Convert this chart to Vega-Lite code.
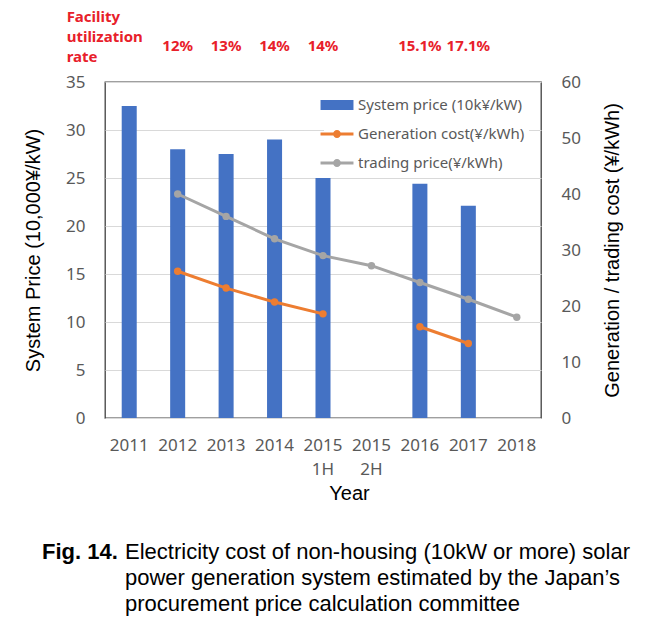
{
  "$schema": "https://vega.github.io/schema/vega-lite/v6.json",
  "width": 436,
  "height": 336,
  "autosize": {"type": "none"},
  "padding": {"left": 105, "top": 82, "right": 116, "bottom": 212},
  "background": "white",
  "config": {
    "font": "Noto Sans",
    "view": {"stroke": "#404040", "strokeWidth": 1.3}
  },
  "datasets": {
    "bars": [
      {"year": "2011", "series": "System price (10k¥/kW)", "price": 32.5},
      {"year": "2012", "series": "System price (10k¥/kW)", "price": 28.0},
      {"year": "2013", "series": "System price (10k¥/kW)", "price": 27.5},
      {"year": "2014", "series": "System price (10k¥/kW)", "price": 29.0},
      {"year": "2015 1H", "series": "System price (10k¥/kW)", "price": 25.0},
      {"year": "2016", "series": "System price (10k¥/kW)", "price": 24.4},
      {"year": "2017", "series": "System price (10k¥/kW)", "price": 22.1}
    ],
    "lines": [
      {"year": "2012", "series": "Generation cost(¥/kWh)", "seg": "g1", "cost": 26.2},
      {"year": "2013", "series": "Generation cost(¥/kWh)", "seg": "g1", "cost": 23.2},
      {"year": "2014", "series": "Generation cost(¥/kWh)", "seg": "g1", "cost": 20.7},
      {"year": "2015 1H", "series": "Generation cost(¥/kWh)", "seg": "g1", "cost": 18.6},
      {"year": "2016", "series": "Generation cost(¥/kWh)", "seg": "g2", "cost": 16.3},
      {"year": "2017", "series": "Generation cost(¥/kWh)", "seg": "g2", "cost": 13.3},
      {"year": "2012", "series": "trading price(¥/kWh)", "seg": "t", "cost": 40.0},
      {"year": "2013", "series": "trading price(¥/kWh)", "seg": "t", "cost": 36.0},
      {"year": "2014", "series": "trading price(¥/kWh)", "seg": "t", "cost": 32.0},
      {"year": "2015 1H", "series": "trading price(¥/kWh)", "seg": "t", "cost": 29.0},
      {"year": "2015 2H", "series": "trading price(¥/kWh)", "seg": "t", "cost": 27.2},
      {"year": "2016", "series": "trading price(¥/kWh)", "seg": "t", "cost": 24.2},
      {"year": "2017", "series": "trading price(¥/kWh)", "seg": "t", "cost": 21.2},
      {"year": "2018", "series": "trading price(¥/kWh)", "seg": "t", "cost": 18.0}
    ],
    "rates": [
      {"year": "2012", "rate": "12%"},
      {"year": "2013", "rate": "13%"},
      {"year": "2014", "rate": "14%"},
      {"year": "2015 1H", "rate": "14%"},
      {"year": "2016", "rate": "15.1%"},
      {"year": "2017", "rate": "17.1%"}
    ]
  },
  "layer": [
    {
      "layer": [
        {
          "data": {"name": "bars"},
          "mark": {"type": "bar"},
          "encoding": {
            "x": {
              "field": "year", "type": "nominal",
              "scale": {"domain": ["2011", "2012", "2013", "2014", "2015 1H", "2015 2H", "2016", "2017", "2018"], "paddingInner": 0.69, "paddingOuter": 0.345},
              "axis": {
                "title": "Year", "labelAngle": 0, "labelExpr": "split(datum.label, ' ')",
                "labelFontSize": 17, "labelColor": "#595959", "labelPadding": 19, "labelLineHeight": 24,
                "ticks": false, "domain": false,
                "titleFont": "Liberation Sans", "titleFontSize": 20, "titleColor": "#000000", "titleFontWeight": "normal",
                "titlePadding": 6, "titleX": 244
              }
            },
            "y": {
              "field": "price", "type": "quantitative",
              "scale": {"domain": [0, 35]},
              "axis": {
                "orient": "left", "title": "System Price (10,000¥/kW)",
                "values": [0, 5, 10, 15, 20, 25, 30, 35],
                "grid": true, "gridColor": "#D9D9D9", "gridWidth": 1,
                "ticks": false, "domain": false,
                "labelFontSize": 17, "labelColor": "#595959", "labelPadding": 20,
                "titleFont": "Liberation Sans", "titleFontSize": 20, "titleColor": "#000000", "titleFontWeight": "normal",
                "titlePadding": 22
              }
            },
            "color": {
              "field": "series", "type": "nominal",
              "scale": {"domain": ["System price (10k¥/kW)", "Generation cost(¥/kWh)", "trading price(¥/kWh)"], "range": ["#4472C4", "#ED7D31", "#A5A5A5"]},
              "legend": {
                "orient": "none", "legendX": 219, "legendY": 10, "title": null, "direction": "vertical",
                "fillColor": "white", "padding": 4,
                "labelFont": "Noto Sans", "labelFontSize": 15, "labelColor": "#595959", "labelOffset": 12, "labelLimit": 300,
                "rowPadding": 12, "symbolSize": 324, "symbolStrokeWidth": 0,
                "encode": {
                  "symbols": {
                    "update": {
                      "shape": {"signal": "datum.value === 'System price (10k¥/kW)' ? 'M-1.83,-0.56H1.83V0.56H-1.83Z' : 'M-1.83,-0.17H1.83V0.17H-1.83Z M0.44,0A0.44,0.44 0 1,1 -0.44,0A0.44,0.44 0 1,1 0.44,0Z'"},
                      "fill": {"signal": "scale('color', datum.value)"},
                      "stroke": {"value": "transparent"},
                      "opacity": {"value": 1},
                      "fillOpacity": {"value": 1}
                    }
                  }
                }
              }
            }
          }
        },
        {
          "data": {"name": "lines"},
          "mark": {"type": "line", "strokeWidth": 3, "point": {"filled": true, "size": 55}},
          "encoding": {
            "x": {"field": "year", "type": "nominal", "scale": {"domain": ["2011", "2012", "2013", "2014", "2015 1H", "2015 2H", "2016", "2017", "2018"]}},
            "y": {
              "field": "cost", "type": "quantitative",
              "scale": {"domain": [0, 60]},
              "axis": {
                "orient": "right", "title": "Generation / trading cost (¥/kWh)",
                "values": [0, 10, 20, 30, 40, 50, 60],
                "grid": false, "ticks": false, "domain": false,
                "labelFontSize": 17, "labelColor": "#595959", "labelPadding": 20,
                "titleFont": "Liberation Sans", "titleFontSize": 20, "titleColor": "#000000", "titleFontWeight": "normal",
                "titleAngle": 270, "titleBaseline": "top", "titlePadding": 22
              }
            },
            "color": {"field": "series", "type": "nominal"},
            "detail": {"field": "seg"}
          }
        },
        {
          "data": {"name": "rates"},
          "mark": {"type": "text", "font": "Noto Sans", "fontWeight": "bold", "fontSize": 15, "color": "#E8202A", "baseline": "middle"},
          "encoding": {
            "x": {"field": "year", "type": "nominal"},
            "y": {"datum": 38.7, "type": "quantitative", "scale": {"domain": [0, 35]}, "axis": null},
            "text": {"field": "rate"}
          }
        }
      ],
      "resolve": {"scale": {"y": "independent"}}
    },
    {
      "data": {"values": [{}]},
      "mark": {"type": "text", "text": "Facility\nutilization\nrate", "lineBreak": "\n", "lineHeight": 20, "align": "left", "baseline": "top", "font": "Noto Sans", "fontWeight": "bold", "fontSize": 15, "color": "#E8202A"},
      "encoding": {
        "x": {"datum": -0.088, "type": "quantitative", "scale": {"domain": [0, 1]}, "axis": null},
        "y": {"datum": 1.214, "type": "quantitative", "scale": {"domain": [0, 1]}, "axis": null}
      }
    },
    {
      "data": {"values": [{}]},
      "mark": {"type": "text", "text": "Fig. 14.", "align": "left", "baseline": "top", "font": "Liberation Sans", "fontWeight": "bold", "fontSize": 22, "color": "#000000"},
      "encoding": {
        "x": {"datum": -0.1445, "type": "quantitative", "scale": {"domain": [0, 1]}, "axis": null},
        "y": {"datum": -0.37, "type": "quantitative", "scale": {"domain": [0, 1]}, "axis": null}
      }
    },
    {
      "data": {"values": [{}]},
      "mark": {"type": "text", "text": "Electricity cost of non-housing (10kW or more) solar\npower generation system estimated by the Japan’s\nprocurement price calculation committee", "lineBreak": "\n", "lineHeight": 26, "align": "left", "baseline": "top", "font": "Liberation Sans", "fontSize": 22, "color": "#000000"},
      "encoding": {
        "x": {"datum": 0.0459, "type": "quantitative", "scale": {"domain": [0, 1]}, "axis": null},
        "y": {"datum": -0.37, "type": "quantitative", "scale": {"domain": [0, 1]}, "axis": null}
      }
    }
  ],
  "resolve": {"scale": {"x": "independent", "y": "independent"}}
}
